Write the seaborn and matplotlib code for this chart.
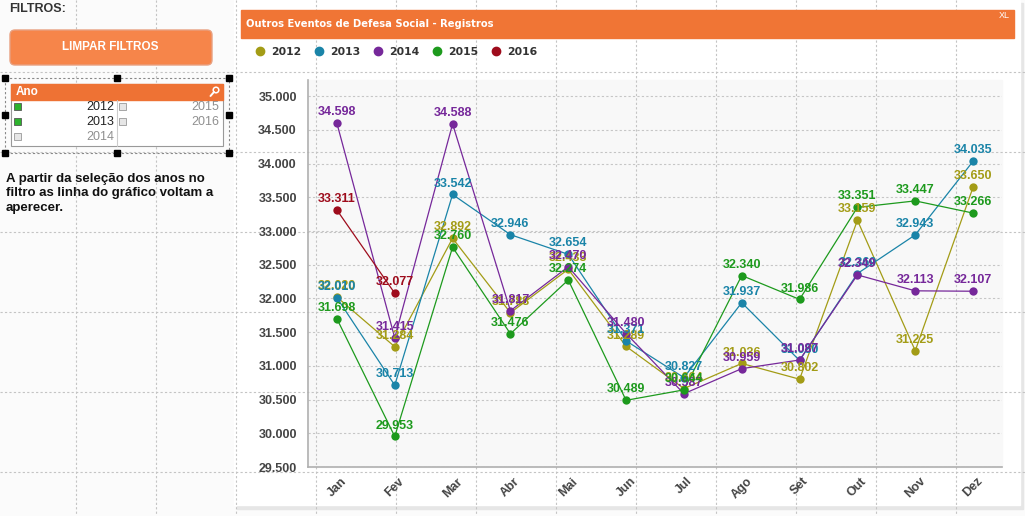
import numpy as np
import pandas as pd
import matplotlib.pyplot as plt
import seaborn as sns
from matplotlib.patches import Rectangle, FancyBboxPatch, Circle
from matplotlib.lines import Line2D

# valores (registros por mes)
meses = ['Jan', 'Fev', 'Mar', 'Abr', 'Mai', 'Jun', 'Jul', 'Ago', 'Set', 'Out', 'Nov', 'Dez']
anos = ['2012', '2013', '2014', '2015', '2016']
v2012 = [32020, 31284, 32892, 31788, 32433, 31289, 30664, 31036, 30802, 33159, 31225, 33650]
v2013 = [32010, 30713, 33542, 32946, 32654, 31371, 30827, 31937, 31080, 32369, 32943, 34035]
v2014 = [34598, 31415, 34588, 31817, 32470, 31480, 30587, 30959, 31087, 32349, 32113, 32107]
v2015 = [31698, 29953, 32760, 31476, 32274, 30489, 30644, 32340, 31986, 33351, 33447, 33266]
v2016 = [33311, 32077] + [np.nan] * 10
cores = ['#a39c16', '#1a84a8', '#76289a', '#1d9a1d', '#9e0c1c']

series = [v2012, v2013, v2014, v2015, v2016]
df = pd.DataFrame({
    'pos': list(range(12)) * len(anos),
    'Ano': np.repeat(anos, 12),
    'valor': np.concatenate([np.array(s, dtype=float) for s in series]),
})
df = df.dropna()

sns.set_theme(style='white')
plt.rcParams['font.family'] = ['Liberation Sans', 'DejaVu Sans']

fig = plt.figure(figsize=(10.25, 5.16), dpi=100, facecolor='#fbfbfb')

# fundo da folha em coordenadas de pixel
bg = fig.add_axes([0, 0, 1, 1])
bg.set_xlim(0, 1025)
bg.set_ylim(516, 0)
bg.axis('off')

# painel do grafico
bg.add_patch(Rectangle((237, 3), 786, 506, color='#e6e6e6', zorder=0))
bg.add_patch(Rectangle((234, 0), 786, 505, color='white', zorder=1))
bg.add_patch(Rectangle((308, 80), 694, 387, color='#f8f8f8', zorder=1))

# grade pontilhada da folha
for gx in np.arange(76, 1025, 80):
    bg.plot([gx, gx], [0, 516], color='#c4c4c4', lw=0.8, ls=(0, (2, 2)), zorder=2)
for gy in np.arange(72, 516, 80):
    bg.plot([0, 1025], [gy, gy], color='#c4c4c4', lw=0.8, ls=(0, (2, 2)), zorder=2)

# barra de titulo
bg.add_patch(Rectangle((241, 10), 773, 28, color='#f07535', zorder=3))
bg.text(246, 24, 'Outros Eventos de Defesa Social - Registros', color='white',
        fontsize=7.2, fontweight='bold', va='center', family='DejaVu Sans', zorder=4)
bg.text(1010, 16, 'XL', color='white', fontsize=6.5, ha='right', va='center', zorder=4)

# painel de filtros
bg.text(9, 9, 'FILTROS:', fontsize=9, fontweight='bold', color='#333333', va='center')
bg.add_patch(FancyBboxPatch((10, 30), 202, 35, boxstyle='round,pad=0,rounding_size=5',
                            facecolor='#f6854a', edgecolor='#e8a080', lw=1, zorder=3))
bg.text(110, 47.5, 'LIMPAR FILTROS', color='white', fontsize=8.5, fontweight='bold',
        ha='center', va='center', zorder=4)

bg.add_patch(Rectangle((5, 78), 224, 75, fill=False, ec='#888888', lw=0.8, ls=(0, (2, 2)), zorder=3))
for hx in [5, 117, 229]:
    for hy in [78, 115, 153]:
        if hx == 117 and hy == 115:
            continue
        bg.add_patch(Rectangle((hx - 3, hy - 3), 6, 6, color='black', zorder=5))
bg.add_patch(Rectangle((11, 84), 212, 62, facecolor='white', ec='#999999', lw=0.8, zorder=3))
bg.add_patch(Rectangle((11, 84), 212, 16, color='#ee7234', zorder=4))
bg.text(16, 92, 'Ano', color='white', fontsize=8.5, fontweight='bold', va='center', zorder=5)
# lupa
bg.add_patch(Circle((216, 90), 2.8, fill=False, ec='white', lw=1.1, zorder=5))
bg.plot([214, 210.5], [92, 96], color='white', lw=1.4, zorder=5, solid_capstyle='round')
bg.plot([117, 117], [100, 146], color='#cccccc', lw=0.8, zorder=4)
itens = [('2012', 18, 114, 107, True), ('2013', 18, 114, 122, True), ('2014', 18, 114, 137, False),
         ('2015', 123, 219, 107, False), ('2016', 123, 219, 122, False)]
for rot, cx, tx, ty, marcado in itens:
    bg.add_patch(Rectangle((cx - 4, ty - 4), 7, 7, facecolor='#2db22d' if marcado else '#e6e6e6',
                           ec='#555555' if marcado else '#999999', lw=0.6, zorder=5))
    bg.text(tx, ty, rot, fontsize=9, ha='right', va='center', zorder=5,
            color='#222222' if marcado else '#909090')

bg.text(6, 173, 'A partir da sele\u00e7\u00e3o dos anos no\nfiltro as linha do gr\u00e1fico voltam a\naperecer.',
        fontsize=9.5, fontweight='bold', color='#111111', va='top', linespacing=1.25)

# area do grafico
ax = fig.add_axes([308 / 1025, (516 - 467) / 516, 694 / 1025, 387 / 516])
ax.set_facecolor('none')
sns.lineplot(data=df, x='pos', y='valor', hue='Ano', palette=cores, marker='o',
             markersize=6, markeredgewidth=0, linewidth=0.9, sort=False,
             legend=False, ax=ax, zorder=3)

for ano, s, c in zip(anos, series, cores):
    for i, v in enumerate(s):
        if np.isnan(v):
            continue
        ax.annotate(f'{v / 1000:.3f}', (i, v), xytext=(0, 3.5), textcoords='offset points',
                    ha='center', va='bottom', fontsize=9, fontweight='bold', color=c, zorder=4)

ax.set_xlim(-0.5, 11.5)
ax.set_ylim(29500, 35240)
ax.set_yticks(np.arange(29500, 35001, 500))
ax.set_yticklabels([f'{t / 1000:.3f}' for t in np.arange(29500, 35001, 500)])
ax.set_xticks(range(12))
ax.set_xticklabels(meses, rotation=45, ha='center', va='top')
ax.tick_params(axis='both', length=0, labelsize=9, labelcolor='#444444')
ax.tick_params(axis='y', pad=8)
ax.tick_params(axis='x', pad=6)
for lab in ax.get_xticklabels() + ax.get_yticklabels():
    lab.set_fontweight('bold')
ax.yaxis.grid(True, color='#c6c6c6', ls=(0, (2, 2)), lw=0.8)
ax.set_xlabel('')
ax.set_ylabel('')
for lado in ['top', 'right']:
    ax.spines[lado].set_visible(False)
for lado in ['left', 'bottom']:
    ax.spines[lado].set_color('#b0b0b0')
    ax.spines[lado].set_linewidth(1.2)

# legenda
alcas = [Line2D([], [], marker='o', ls='', color=c, markersize=6) for c in cores]
leg = fig.legend(alcas, anos, ncol=5, loc='center left', bbox_to_anchor=(246 / 1025, 1 - 52 / 516),
                 frameon=False, handlelength=0.8, handletextpad=0.6, columnspacing=1.25,
                 prop={'family': 'DejaVu Sans', 'weight': 'bold', 'size': 7.8})
for t in leg.get_texts():
    t.set_color('#333333')

fig.savefig('out.png', dpi=100, facecolor=fig.get_facecolor())
